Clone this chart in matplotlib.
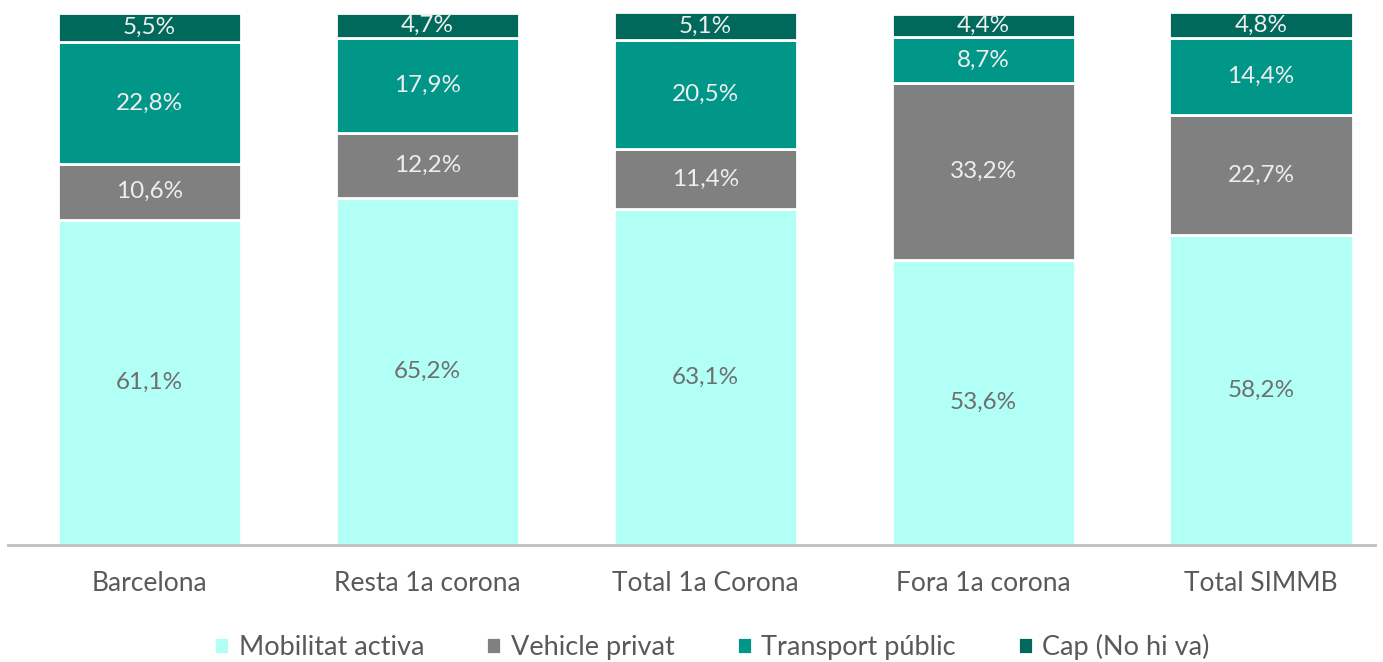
import matplotlib.pyplot as plt
import numpy as np

categories = ["Barcelona", "Resta 1a corona", "Total 1a Corona", "Fora 1a corona", "Total SIMMB"]
series_names = ["Mobilitat activa", "Vehicle privat", "Transport públic", "Cap (No hi va)"]
mobilitat = [61.1, 65.2, 63.1, 53.6, 58.2]
vehicle = [10.6, 12.2, 11.4, 33.2, 22.7]
transport = [22.8, 17.9, 20.5, 8.7, 14.4]
cap = [5.5, 4.7, 5.1, 4.4, 4.8]

colors = ["#B2FFF6", "#808080", "#009688", "#00695C"]
label_colors = ["#6E6E6E", "#EEEEEE", "#EEEEEE", "#EEEEEE"]

plt.rcParams['font.family'] = ['Lato', 'DejaVu Sans']

fig = plt.figure(figsize=(13.83, 6.62), dpi=100)
ax = fig.add_axes([8 / 1383, 1 - 545 / 662, (1375 - 8) / 1383, (545 - 13) / 662])

x = np.arange(len(categories))
bottom = np.zeros(len(categories))
for name, vals, col, lc in zip(series_names, [mobilitat, vehicle, transport, cap], colors, label_colors):
    vals = np.array(vals)
    ax.bar(x, vals, 0.66, bottom=bottom, color=col, edgecolor="white", linewidth=2, label=name)
    for xi, b, v in zip(x, bottom, vals):
        ax.text(xi, b + v / 2, f"{v:.1f}%".replace(".", ","), ha="center", va="center",
                fontsize=17.5, color=lc)
    bottom += vals

ax.set_xlim(-0.51, 4.41)
ax.set_ylim(0, 100)
ax.set_xticks(x)
ax.set_xticklabels(categories, fontsize=19, color="#595959")
ax.tick_params(axis="x", length=0, pad=19)
ax.set_yticks([])
for s in ["top", "right", "left"]:
    ax.spines[s].set_visible(False)
ax.spines["bottom"].set_color("#BFBFBF")
ax.spines["bottom"].set_linewidth(2)

fig.legend(loc="center", bbox_to_anchor=(712 / 1383, 1 - 647 / 662), ncol=4, frameon=False,
           fontsize=19.5, labelcolor="#595959", handlelength=0.55, handleheight=0.55,
           handletextpad=0.35, columnspacing=2.3)

fig.savefig("out.png", dpi=100)
